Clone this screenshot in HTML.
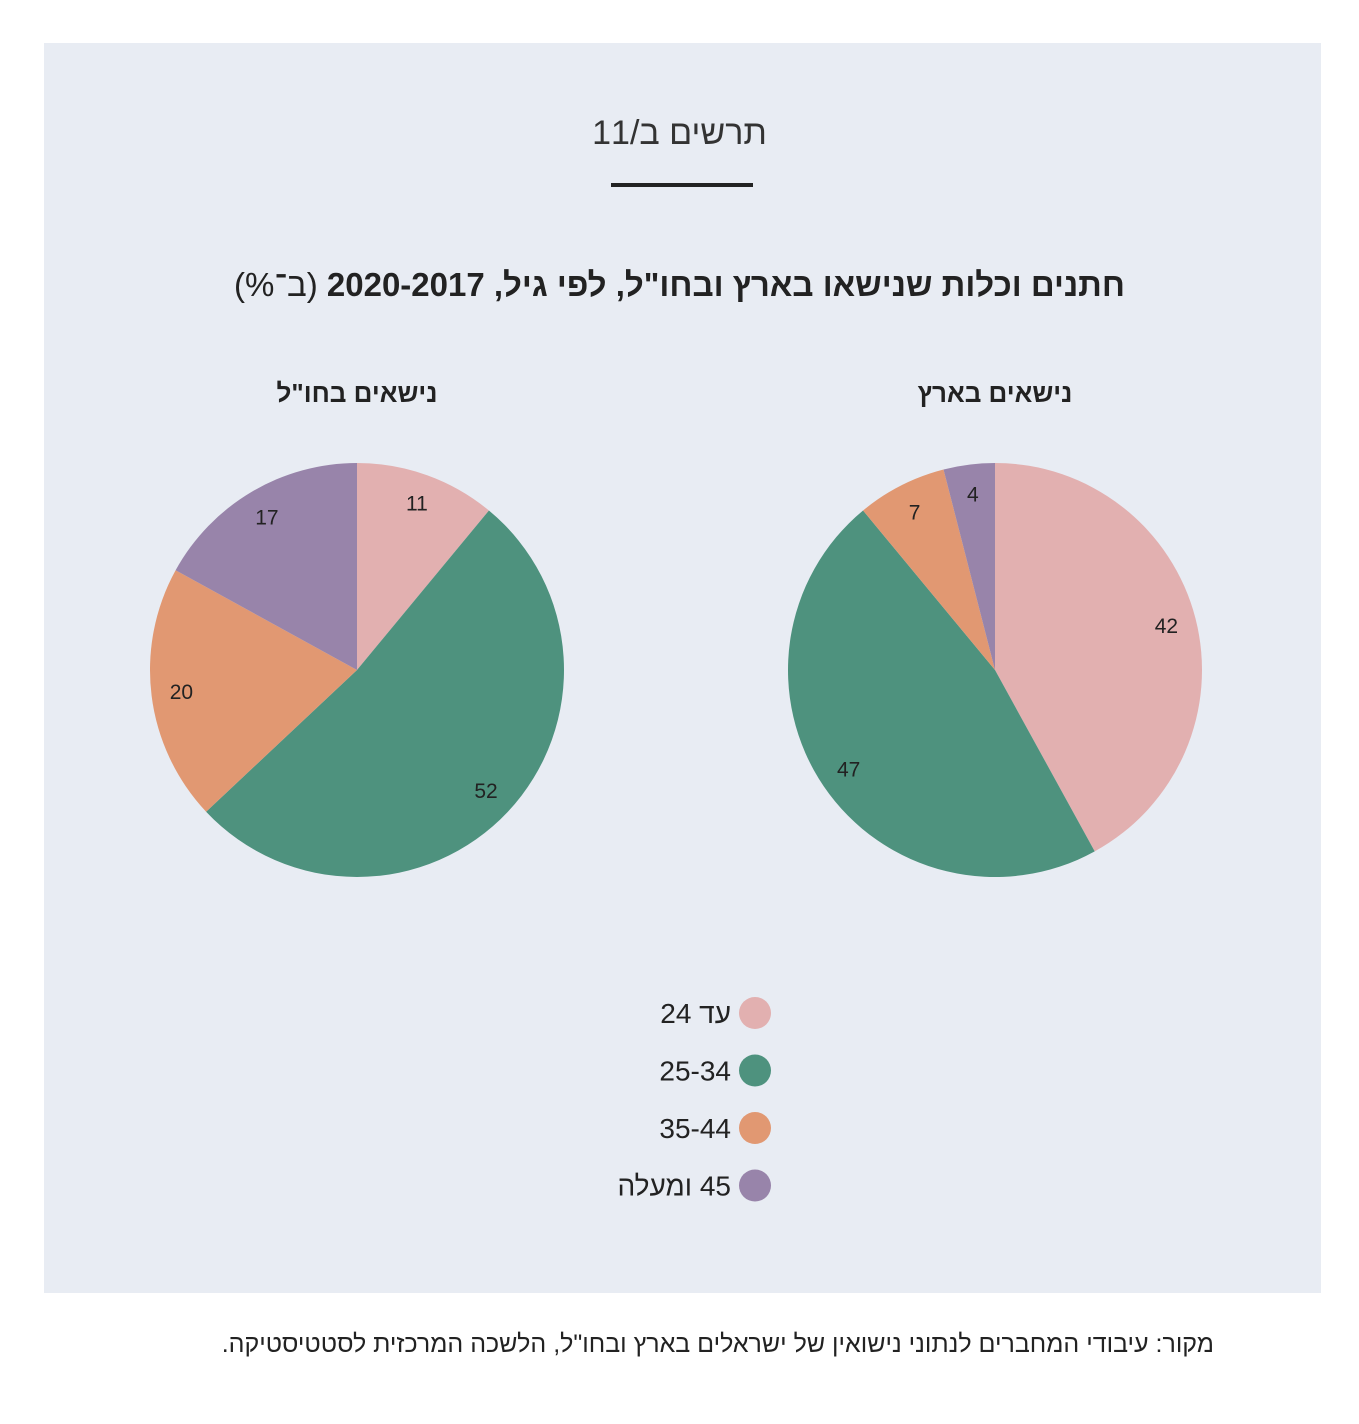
<!DOCTYPE html>
<html lang="he"><head><meta charset="utf-8">
<style>
body{margin:0;width:1359px;height:1424px;background:#fff;font-family:"Liberation Sans",sans-serif;position:relative;overflow:hidden}
#panel{position:absolute;left:44px;top:43px;width:1277px;height:1250px;background:#e8ecf3}
.t{position:absolute;direction:rtl;color:#222}
</style></head><body>
<div id="panel"></div>
<div class="t" style="left:0;width:1359px;text-align:center;top:114px;font-size:34px;color:#333">תרשים ב/11</div>
<div style="position:absolute;left:611px;top:183px;width:142px;height:4px;background:#222"></div>
<div class="t" style="left:0;width:1359px;text-align:center;top:266px;font-size:33px;font-weight:bold">חתנים וכלות שנישאו בארץ ובחו"ל, לפי גיל, 2020-2017 <span style="font-weight:normal">(ב־%)</span></div>
<div class="t" style="left:207px;width:300px;text-align:center;top:378px;font-size:26px;font-weight:bold">נישאים בחו"ל</div>
<div class="t" style="left:845px;width:300px;text-align:center;top:378px;font-size:26px;font-weight:bold">נישאים בארץ</div>
<svg id="pies" width="1359" height="1424" style="position:absolute;left:0;top:0"></svg>
<div class="t" style="left:44px;width:1170px;top:1322px;font-size:25px;line-height:44px;text-align:justify;text-align-last:right;color:#222">מקור: עיבודי המחברים לנתוני נישואין של ישראלים בארץ ובחו"ל, הלשכה המרכזית לסטטיסטיקה.</div>
<script>
const categories=["עד 24","25-34","35-44","45 ומעלה"];
const colors=["#e2b0b0","#4e927e","#e19872","#9884aa"];
const abroadValues=[11,52,20,17];
const israelValues=[42,47,7,4];
const svg=document.getElementById('pies');
const NS="http://www.w3.org/2000/svg";
function drawPie(cx,cy,r,vals,name){
  const tot=vals.reduce((a,b)=>a+b,0);let acc=0;
  vals.forEach((v,i)=>{
    const a0=acc/tot*2*Math.PI;acc+=v;const a1=acc/tot*2*Math.PI;
    const x0=cx+r*Math.sin(a0),y0=cy-r*Math.cos(a0),x1=cx+r*Math.sin(a1),y1=cy-r*Math.cos(a1);
    const p=document.createElementNS(NS,'path');
    p.setAttribute('d',`M${cx},${cy}L${x0},${y0}A${r},${r} 0 ${a1-a0>Math.PI?1:0} 1 ${x1},${y1}Z`);
    p.setAttribute('fill',colors[i]);
    
    
    svg.appendChild(p);
    const am=(a0+a1)/2,lr=r*0.855;
    const t=document.createElementNS(NS,'text');
    t.setAttribute('x',cx+lr*Math.sin(am));t.setAttribute('y',cy-lr*Math.cos(am)+7);
    t.setAttribute('text-anchor','middle');t.setAttribute('font-size','21');t.setAttribute('fill','#222');
    t.setAttribute('font-family','Liberation Sans');
    t.textContent=v;
    
    
    svg.appendChild(t);
  });
}
drawPie(357,670,207,abroadValues,'abroad');
drawPie(995,670,207,israelValues,'israel');
categories.forEach((c,i)=>{
  const y=1013+i*57.5;
  const ci=document.createElementNS(NS,'circle');
  ci.setAttribute('cx',755);ci.setAttribute('cy',y);ci.setAttribute('r',16);ci.setAttribute('fill',colors[i]);
  
  
  svg.appendChild(ci);
  const t=document.createElementNS(NS,'text');
  t.setAttribute('x',731);t.setAttribute('y',y+10);t.setAttribute('text-anchor','start');t.setAttribute('direction','rtl');
  t.setAttribute('font-size','28');t.setAttribute('fill','#222');t.setAttribute('font-family','Liberation Sans');
  t.textContent=c;
  
  
  svg.appendChild(t);
});
</script>
</body></html>
